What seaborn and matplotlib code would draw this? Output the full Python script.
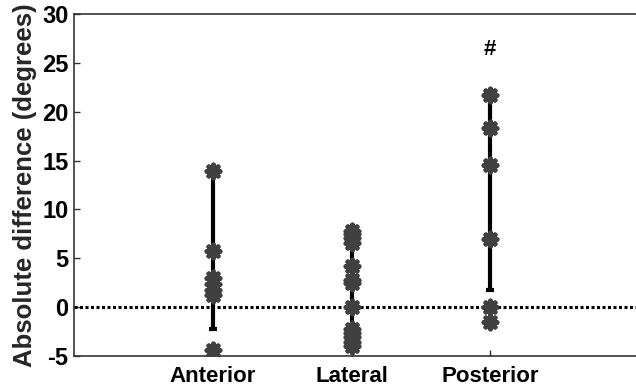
import matplotlib
matplotlib.use("Agg")
import matplotlib.pyplot as plt
import seaborn as sns
import pandas as pd

# Absolute difference per region (degrees)
anterior = [13.9, 5.7, 3.0, 2.4, 1.8, 1.2, -4.4]
lateral = [7.8, 7.5, 7.1, 6.6, 4.2, 2.8, 2.5, 0.0, -2.2, -2.6, -3.1, -3.6, -4.0]
posterior = [21.7, 18.3, 14.5, 7.0, 0.0, -1.5]

categories = ["Anterior", "Lateral", "Posterior"]
bar_low = [-2.2, -4.1, 1.8]
bar_high = [13.9, 6.6, 21.7]

yticks = [-5, 0, 5, 10, 15, 20, 25, 30]

df = pd.DataFrame({
    "region": ["Anterior"] * len(anterior) + ["Lateral"] * len(lateral) + ["Posterior"] * len(posterior),
    "value": anterior + lateral + posterior,
})

sns.set_theme(style="white")
plt.rcParams["font.family"] = ["Liberation Sans", "DejaVu Sans"]
plt.rcParams["font.weight"] = "bold"

fig = plt.figure(figsize=(6.36, 3.91), dpi=100)
ax = fig.add_axes([0.1164, 0.0895, 0.8836, 0.8747])

# zero reference line
ax.axhline(0, color="black", linestyle=(0, (1, 0.8)), linewidth=2.2, zorder=1)

# vertical bars with a cap at the ends
for i, cat in enumerate(categories):
    ax.errorbar([i], [(bar_low[i] + bar_high[i]) / 2],
                yerr=[[(bar_high[i] - bar_low[i]) / 2], [(bar_high[i] - bar_low[i]) / 2]],
                fmt="none", ecolor="black", elinewidth=3, capsize=3, capthick=3, zorder=2)

sns.stripplot(data=df, x="region", y="value", order=categories, jitter=False,
              marker=(8, 2, 0), size=9.5, linewidth=3.4, color="#404040",
              edgecolor="#404040", ax=ax, zorder=3)

ax.text(2, 26.4, "#", ha="center", va="center", fontsize=16, fontweight="bold", color="black")

ax.set_xlim(-1.0, 3.05)
ax.set_ylim(-5, 30)
ax.set_yticks(yticks)
ax.set_yticklabels([str(t) for t in yticks])
ax.set_xlabel("")
ax.set_ylabel("Absolute difference (degrees)", fontsize=18.5, fontweight="bold", labelpad=4)
ax.tick_params(axis="both", direction="in", length=4, width=1, colors="#333333",
               labelcolor="black", bottom=True, left=True)
ax.tick_params(axis="y", labelsize=17, pad=4)
ax.tick_params(axis="x", labelsize=16, pad=7)
for lab in ax.get_xticklabels() + ax.get_yticklabels():
    lab.set_fontweight("bold")

for side in ["left", "bottom", "top"]:
    ax.spines[side].set_color("#333333")
    ax.spines[side].set_linewidth(1.2)
ax.spines["right"].set_visible(False)

fig.savefig("out.png", dpi=100)
